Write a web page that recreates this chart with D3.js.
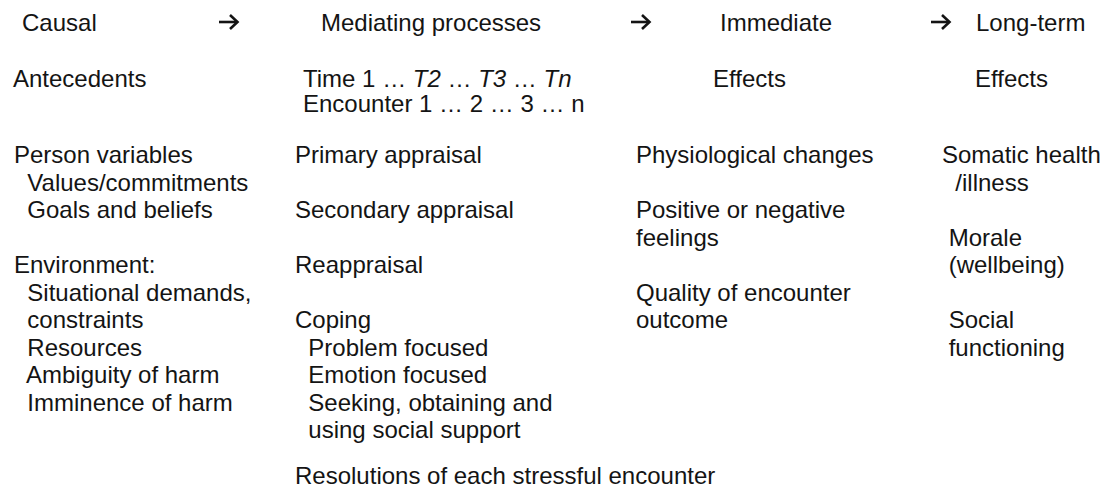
<!DOCTYPE html>
<html>
<head>
<meta charset="utf-8">
<script src="https://cdn.jsdelivr.net/npm/d3@7"></script>
<style>
  body { margin: 0; background: #fff; }
  svg text { font-family: "Liberation Sans", Arial, sans-serif; font-size: 24px; fill: #141414; white-space: pre; }
</style>
</head>
<body>
<svg id="chart" width="1106" height="493"></svg>
<script>
////////////////////////////////////////////////////////////////////////////////
// Data
var stages = ["causal", "mediating", "immediate", "longterm"]
var stageTitles = ["Causal", "Mediating processes", "Immediate", "Long-term"]
var stageSubtitles = ["Antecedents", null, "Effects", "Effects"]
var timeLine = [["Time 1 … ", false], ["T2", true], [" … ", false], ["T3", true], [" … ", false], ["Tn", true]]
var encounterLine = "Encounter 1 … 2 … 3 … n"

// one entry per text row, "" = blank row, leading spaces = indent
var causalItems = [
  "Person variables",
  "  Values/commitments",
  "  Goals and beliefs",
  "",
  "Environment:",
  "  Situational demands,",
  "  constraints",
  "  Resources",
  "  Ambiguity of harm",
  "  Imminence of harm"
]
var mediatingItems = [
  "Primary appraisal",
  "",
  "Secondary appraisal",
  "",
  "Reappraisal",
  "",
  "Coping",
  "  Problem focused",
  "  Emotion focused",
  "  Seeking, obtaining and",
  "  using social support"
]
var immediateItems = [
  "Physiological changes",
  "",
  "Positive or negative",
  "feelings",
  "",
  "Quality of encounter",
  "outcome"
]
var longtermItems = [
  "Somatic health",
  "  /illness",
  "",
  " Morale",
  " (wellbeing)",
  "",
  " Social",
  " functioning"
]
var resolutionText = "Resolutions of each stressful encounter"

////////////////////////////////////////////////////////////////////////////////
// Layout
var svg = d3.select("#chart")

var titleX = d3.scaleOrdinal(stages, [22, 321, 720, 976])
var subtitleX = d3.scaleOrdinal(stages, [13, 303, 713, 975])
var bodyX = d3.scaleOrdinal(stages, [14, 295, 636, 942])
var arrowX = d3.scaleOrdinal(stages.slice(1), [219, 631, 931])
var rowY = d3.scaleLinear().domain([0, 1]).range([163, 190.5])

// header row
svg.selectAll("text.title")
  .data(stages)
  .join("text")
  .attr("class", "title")
  .attr("x", d => titleX(d))
  .attr("y", 31)
  .text((d, i) => stageTitles[i])

// arrow glyph: shaft + chevron head, drawn relative to its anchor
var arrowShape = d3.line()
var arrows = svg.selectAll("g.arrow")
  .data(stages.slice(1))
  .join("g")
  .attr("class", "arrow")
  .attr("transform", d => "translate(" + arrowX(d) + ",22)")
  .attr("fill", "none")
  .attr("stroke", "#141414")
  .attr("stroke-width", 2.6)
arrows.append("path").attr("d", arrowShape([[0, 0], [18, 0]]))
arrows.append("path").attr("d", arrowShape([[11, -7], [18.5, 0], [11, 7]]))

svg.selectAll("text.subtitle")
  .data(stages.filter((d, i) => stageSubtitles[i]))
  .join("text")
  .attr("class", "subtitle")
  .attr("x", d => subtitleX(d))
  .attr("y", 87)
  .text(d => stageSubtitles[stages.indexOf(d)])

var time = svg.append("text")
  .attr("x", subtitleX("mediating"))
  .attr("y", 87)
time.selectAll("tspan")
  .data(timeLine)
  .join("tspan")
  .style("font-style", d => d[1] ? "italic" : null)
  .text(d => d[0])

svg.append("text")
  .attr("x", subtitleX("mediating"))
  .attr("y", 112)
  .text(encounterLine)

// body columns
var columns = [causalItems, mediatingItems, immediateItems, longtermItems]
stages.forEach(function(s, ci) {
  svg.append("g")
    .attr("class", "col-" + s)
    .selectAll("text")
    .data(columns[ci].map((t, r) => ({t: t, r: r})).filter(d => d.t))
    .join("text")
    .attr("x", bodyX(s))
    .attr("y", d => rowY(d.r))
    .text(d => d.t)
})

svg.append("text")
  .attr("x", bodyX("mediating"))
  .attr("y", rowY(11.68))
  .text(resolutionText)
</script>
</body>
</html>
